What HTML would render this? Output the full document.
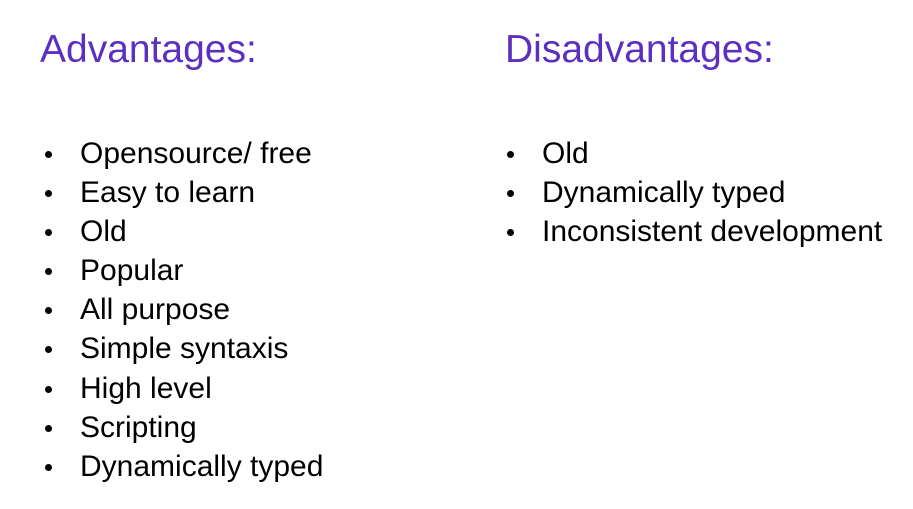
<!DOCTYPE html>
<html><head><meta charset="utf-8"><style>
html,body{margin:0;padding:0;background:#fff;}
body{width:913px;height:509px;position:relative;overflow:hidden;font-family:"Liberation Sans",Arial,sans-serif;}
.t{position:absolute;color:#5B2FC0;font-size:39px;line-height:48px;top:26px;}
ul{position:absolute;margin:0;padding:0;list-style:none;font-size:30px;line-height:39.1px;color:#000;}
li{position:relative;padding-left:36px;white-space:nowrap;}
li:before{content:"";position:absolute;left:1px;top:17px;width:7px;height:7px;border-radius:50%;background:#000;}
</style></head><body>
<div class="t" style="left:40px">Advantages:</div>
<div class="t" style="left:505px">Disadvantages:</div>
<ul style="left:44px;top:134px">
<li>Opensource/ free</li>
<li>Easy to learn</li>
<li>Old</li>
<li>Popular</li>
<li>All purpose</li>
<li>Simple syntaxis</li>
<li>High level</li>
<li>Scripting</li>
<li>Dynamically typed</li>
</ul>
<ul style="left:506px;top:134px">
<li>Old</li>
<li>Dynamically typed</li>
<li>Inconsistent development</li>
</ul>
</body></html>
